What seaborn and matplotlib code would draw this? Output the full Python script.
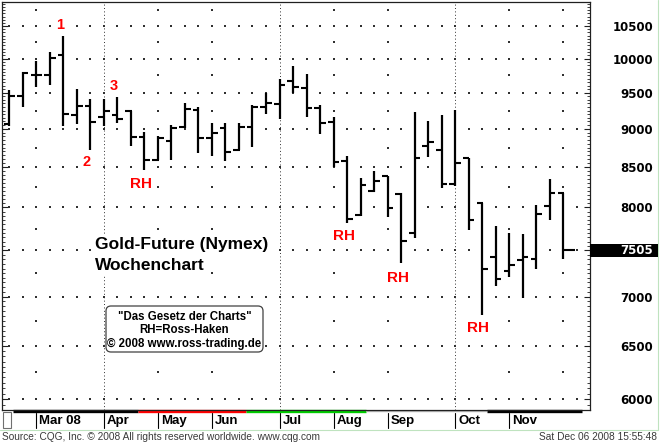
import numpy as np
import pandas as pd
import matplotlib
matplotlib.use("Agg")
import matplotlib.pyplot as plt
import matplotlib.transforms as mtransforms
from matplotlib.patches import FancyBboxPatch, Rectangle
from matplotlib.lines import Line2D
from matplotlib.ticker import FixedLocator, NullFormatter, FuncFormatter
import seaborn as sns

# ---------------------------------------------------------------------------
# Gold future (Nymex), weekly bars (price x10), weeks starting Mon 18 Feb 2008
# ---------------------------------------------------------------------------
week_start = pd.date_range("2008-02-18", periods=42, freq="W-MON")

opens = [9061, 9454, 9756, 9756, 10053, 9188, 9313, 9165, 9188, 9243,
         8886, 8588, 8841, 9028, 9257, 8881, 9015, 8718, 9028, 9304,
         9338, 9669, 9573, 9281, 9097, 8575, 7913, 8203, 8386, 8159,
         7695, 8771, 8718, 8282, 8621, 8049, 7429, 7275, 7393, 7404,
         8017, 8178]
highs = [9539, 9805, 9963, 10103, 10344, 9549, 9407, 9407, 9444, 9248,
         8961, 8903, 9051, 9351, 9304, 9083, 9083, 9074, 9327, 9501,
         9698, 9889, 9767, 9327, 9156, 8635, 8366, 8452, 8386, 8171,
         9225, 9110, 9188, 9257, 8621, 8049, 7780, 7702, 7687, 8029,
         8344, 8178]
lows = [9038, 9304, 9578, 9611, 9042, 9061, 8718, 9038, 9074, 8775,
        8461, 8588, 8588, 9007, 8675, 8644, 8579, 8718, 8762, 9198,
        9129, 9492, 9156, 8926, 8503, 7819, 7898, 8190, 7889, 7356,
        7637, 8631, 8232, 8261, 7733, 6808, 7113, 7210, 6980, 7291,
        7850, 7401]
closes = [9454, 9781, 9756, 10004, 9202, 9313, 9088, 9243, 9129, 8886,
          8588, 8881, 9007, 9272, 8881, 8948, 8696, 9020, 9304, 9351,
          9611, 9587, 9281, 9083, 8569, 7868, 8273, 8323, 7989, 7610,
          8610, 8828, 8282, 8556, 7850, 7294, 7185, 7338, 7423, 7918,
          8171, 7505]

price_levels = [6000, 6500, 7000, 7500, 8000, 8500, 9000, 9500, 10000, 10500]
half_levels = [6250, 6750, 7250, 7750, 8250, 8750, 9250, 9750, 10250, 10750]

# Swing annotations: (label, week, price)
marks_text = ["1", "2", "3", "RH", "RH", "RH", "RH"]
marks_week = [3.75, 5.75, 7.75, 9.75, 24.8, 28.77, 34.7]
marks_price = [10510, 8563, 9597, 8286, 7663, 7196, 6676]

# Contract roll strip along the time axis: (from week, to week, colour)
roll_from = [0.27, 9.53, 17.52, 26.4, 35.36]
roll_to = [9.53, 17.52, 26.4, 35.36, 42.4]
roll_color = ["#000000", "#ff0000", "#00cc00", "#b8b8b8", "#000000"]

# ---------------------------------------------------------------------------
sns.set_style("white")
plt.rcParams["font.family"] = ["Liberation Sans", "DejaVu Sans"]

W_PX, H_PX, DPI = 660, 442, 100
fig = plt.figure(figsize=(W_PX / DPI, H_PX / DPI), dpi=DPI)
fig.patch.set_facecolor("white")

# pixel coordinates measured from the top-left corner of the figure
to_px = (mtransforms.Affine2D().scale(1, -1).translate(0, H_PX).scale(1 / DPI)
         + fig.dpi_scale_trans)

ax_l, ax_r, ax_t, ax_b = 1.5, 590, 1.5, 410
ax = fig.add_axes([ax_l / W_PX, 1 - ax_b / H_PX,
                   (ax_r - ax_l) / W_PX, (ax_b - ax_t) / H_PX])
ax.set_facecolor("white")

x = np.arange(len(week_start))
o = np.array(opens, float)
h = np.array(highs, float)
lo = np.array(lows, float)
c = np.array(closes, float)

ax.set_yscale("log")
ax.set_xlim(-0.577, 42.98)
ax.set_ylim(5905, 10893)

# --- dotted grid -----------------------------------------------------------
months = pd.Series(week_start.month)
month_idx = list(np.where(months.diff().fillna(0) != 0)[0])
quarter_idx = [i for i in month_idx if week_start[i].month in (1, 4, 7, 10)]
plain_idx = [i for i in month_idx if i not in quarter_idx]

gx, gy = np.meshgrid(np.arange(0, 43), price_levels)
ax.scatter(gx.ravel(), gy.ravel(), s=0.8, marker="s", color="#303030",
           linewidths=0, zorder=1)
hx, hy = np.meshgrid(plain_idx, half_levels)
ax.scatter(hx.ravel(), hy.ravel(), s=0.8, marker="s", color="#303030",
           linewidths=0, zorder=1)
for q in quarter_idx:
    ax.axvline(q, color="#303030", lw=0.7, ls=(0, (1.0, 2.5)), zorder=1)

# --- OHLC bars ---------------------------------------------------------------
hl = pd.DataFrame({"week": np.repeat(x, 2),
                   "price": np.column_stack([lo, h]).ravel()})
sns.lineplot(data=hl, x="week", y="price", units="week", estimator=None,
             sort=False, color="black", lw=1.6, solid_capstyle="butt",
             ax=ax, legend=False, zorder=3)
tick = 0.42
ax.hlines(o, x - tick, x + 0.05, color="black", lw=1.5, zorder=3)
close_len = np.full(len(x), tick)
close_len[-1] = 0.88
ax.hlines(c, x - 0.05, x + close_len, color="black", lw=1.5, zorder=3)

# --- swing labels ------------------------------------------------------------
label_bg = dict(facecolor="white", edgecolor="none", pad=0.6)
for t, wk, pr in zip(marks_text, marks_week, marks_price):
    ax.text(wk, pr, t, color="#ff0000", fontsize=11 if t == "RH" else 10.5,
            fontweight="bold", ha="center", va="center", zorder=4,
            bbox=label_bg)

# --- axes, ticks ------------------------------------------------------------
for s in ax.spines.values():
    s.set_color("#202020")
    s.set_linewidth(0.9)
ax.set_xlabel("")
ax.set_ylabel("")
ax.set_xticks([])
ax.yaxis.set_major_locator(FixedLocator(price_levels))
ax.yaxis.set_major_formatter(
    FuncFormatter(lambda v, _: "" if round(v) == 7500 else f"{int(round(v))}"))
minor = [v for v in range(5950, 10900, 50) if v not in price_levels]
ax.yaxis.set_minor_locator(FixedLocator(minor))
ax.yaxis.set_minor_formatter(NullFormatter())
ax.tick_params(axis="y", which="major", direction="in", length=4.5, width=0.8,
               left=True, right=True, labelleft=False, labelright=True,
               pad=45.5, labelsize=8.5, colors="#202020")
ax.tick_params(axis="y", which="minor", direction="in", length=2.0, width=0.6,
               left=True, right=True, colors="#202020")
for lab in ax.get_yticklabels():
    lab.set_ha("right")
    lab.set_fontfamily("DejaVu Sans")
    lab.set_fontweight("bold")
    lab.set_color("black")

# last price marker on the price scale
box_h = 13
y_last_px = H_PX - ax.transData.transform((0, c[-1]))[1]
fig.patches.append(Rectangle((590, y_last_px - box_h / 2), 68, box_h,
                             transform=to_px, facecolor="black",
                             edgecolor="none", zorder=5))
fig.text(653, y_last_px, f"{int(c[-1])}", transform=to_px, color="white",
         fontsize=8.5, fontweight="bold", family="DejaVu Sans",
         ha="right", va="center", zorder=6)

# --- time axis strip -------------------------------------------------------
xb = mtransforms.blended_transform_factory(ax.transData, ax.transAxes)
strip_y = -1.2 / (ax_b - ax_t)
for a, b, col in zip(roll_from, roll_to, roll_color):
    lw = 1.0 if col == "#b8b8b8" else 2.4
    ax.add_line(Line2D([a, b], [strip_y, strip_y], color=col, lw=lw,
                       transform=xb, clip_on=False, solid_capstyle="butt"))

sep_bottom = -18 / (ax_b - ax_t)
month_names = {3: "Mar 08", 4: "Apr", 5: "May", 6: "Jun", 7: "Jul", 8: "Aug",
               9: "Sep", 10: "Oct", 11: "Nov"}
label_off = mtransforms.ScaledTranslation(3 / DPI, 0, fig.dpi_scale_trans)
for i in month_idx:
    m = week_start[i].month
    if m not in month_names:
        continue
    ax.add_line(Line2D([i, i], [-2.5 / (ax_b - ax_t), sep_bottom], color="black",
                       lw=0.8, transform=xb, clip_on=False))
    ax.text(i, -10.8 / (ax_b - ax_t), month_names[m], transform=xb + label_off,
            ha="left", va="center", fontsize=9.5, fontweight="bold",
            color="black")

fig.patches.append(Rectangle((3, 411.5), 8, 16, transform=to_px,
                             facecolor="white", edgecolor="#707070", lw=0.8))

# --- title and source box -------------------------------------------------
title_bg = dict(facecolor="white", edgecolor="none", pad=1.5)
fig.text(95, 244, "Gold-Future (Nymex)", transform=to_px, fontsize=12.5,
         fontweight="bold", ha="left", va="center", color="black",
         bbox=title_bg, zorder=4)
fig.text(95, 265, "Wochenchart", transform=to_px, fontsize=12.5,
         fontweight="bold", ha="left", va="center", color="black",
         bbox=title_bg, zorder=4)

fig.patches.append(FancyBboxPatch((106, 306), 157, 46,
                                  boxstyle="round,pad=0,rounding_size=5",
                                  transform=to_px, facecolor="white",
                                  edgecolor="#404040", lw=0.9, zorder=4))
for yy, line in zip([316.5, 330, 343.5],
                    ['"Das Gesetz der Charts"', "RH=Ross-Haken",
                     "\u00a9 2008 www.ross-trading.de"]):
    fig.text(184.5, yy, line, transform=to_px, fontsize=8.3, fontweight="bold",
             ha="center", va="center", color="black", zorder=5)

# --- outer frame and footer --------------------------------------------------
frame_col = "#bfe3bf"
fig.lines.append(Line2D([0, 657.5], [430, 430], transform=to_px,
                        color=frame_col, lw=0.8))
fig.lines.append(Line2D([657.5, 657.5], [0, 430], transform=to_px,
                        color=frame_col, lw=0.8))
fig.text(2, 437, "Source: CQG, Inc. \u00a9 2008 All rights reserved worldwide. www.cqg.com",
         transform=to_px, fontsize=7.3, color="#3a3a3a", ha="left", va="center")
fig.text(657, 437, "Sat Dec 06 2008 15:55:48", transform=to_px, fontsize=7.3,
         color="#3a3a3a", ha="right", va="center")

fig.savefig("out.png", dpi=DPI, facecolor="white")
